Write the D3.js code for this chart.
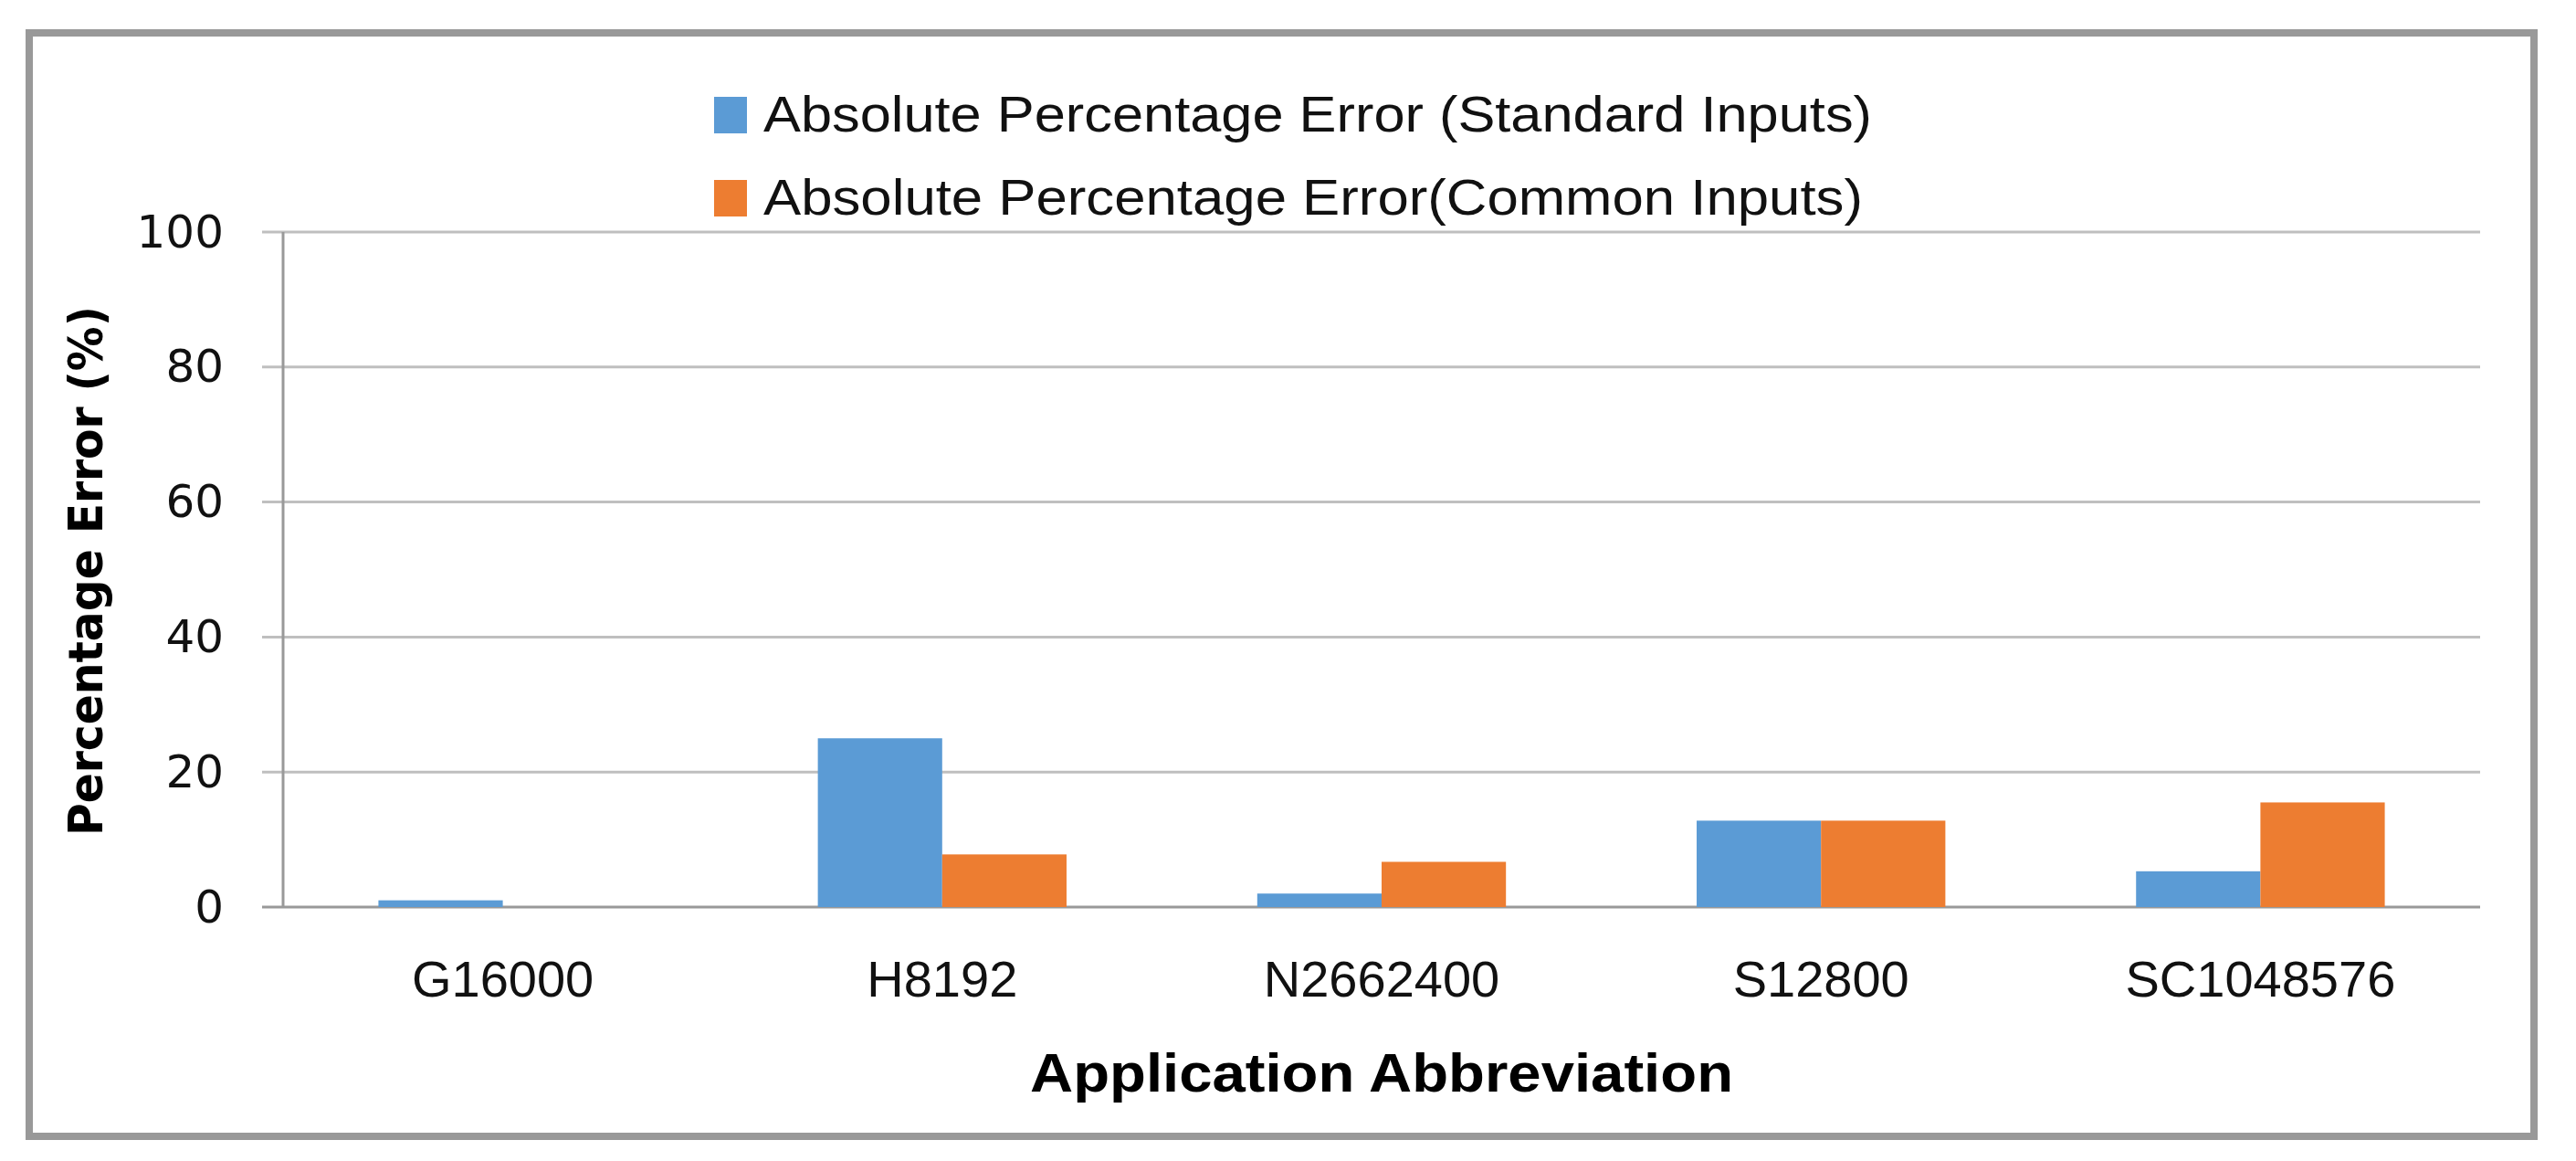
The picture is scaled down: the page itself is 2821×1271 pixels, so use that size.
<!DOCTYPE html>
<html><head><meta charset="utf-8">
<script src="https://cdn.jsdelivr.net/npm/d3@7"></script>
<style>body{margin:0;background:#fff}</style></head>
<body><svg id="c" width="2821" height="1271"></svg>
<script>
const categories = ["G16000","H8192","N2662400","S12800","SC1048576"];
const seriesNames = ["Absolute Percentage Error (Standard Inputs)","Absolute Percentage Error(Common Inputs)"];
const standardInputs = [1.0, 25.0, 2.0, 12.8, 5.3];
const commonInputs = [0.0, 7.8, 6.7, 12.8, 15.5];
const yTicks = [0,20,40,60,80,100];
const colors = ["#5b9bd5","#ed7d31"];

const svg = d3.select("#c");
const narrow = "'Liberation Sans Narrow','Arial Narrow',sans-serif";
svg.append("rect").attr("x",32).attr("y",36).attr("width",2743).attr("height",1208)
  .attr("fill","#fff").attr("stroke","#999").attr("stroke-width",8);

const L=310,R=2716,T=254,B=993;
const x = d3.scaleBand().domain(categories).range([L,R]).paddingInner(0.434).paddingOuter(0.217);
const xs = d3.scaleBand().domain([0,1]).range([0,x.bandwidth()]);
const y = d3.scaleLinear().domain([0,100]).range([B,T]);

const g = svg.append("g");
g.selectAll("line.grid").data(yTicks).join("line")
  .attr("x1",L-23).attr("x2",R).attr("y1",d=>y(d)).attr("y2",d=>y(d))
  .attr("stroke",d=>d===0?"#999":"#bfbfbf").attr("stroke-width",3);
g.append("line").attr("x1",L).attr("x2",L).attr("y1",T).attr("y2",B).attr("stroke","#999").attr("stroke-width",3);

const yAxis = d3.axisLeft(y).tickValues(yTicks).tickSize(0).tickPadding(65);
const ya = svg.append("g").attr("transform",`translate(${L},0)`).call(yAxis);
ya.select(".domain").remove();
ya.selectAll("text").attr("font-family","'DejaVu Sans',sans-serif").attr("font-size",50).attr("fill","#111");

const series=[standardInputs,commonInputs];
series.forEach((vals,si)=>{
  svg.append("g").selectAll("rect").data(vals).join("rect")
    .attr("x",(d,i)=>x(categories[i])+xs(si)).attr("width",xs.bandwidth())
    .attr("y",d=>y(d)).attr("height",d=>B-y(d)).attr("fill",colors[si]);
});

const xAxis = d3.axisBottom(x).tickSize(0).tickPadding(58);
const xa = svg.append("g").attr("transform",`translate(0,${B})`).call(xAxis);
xa.select(".domain").remove();
xa.selectAll("text").attr("font-family",narrow).attr("font-size",56).attr("fill","#111");

svg.append("text").attr("x",(L+R)/2).attr("y",1195).attr("text-anchor","middle")
  .attr("font-family",narrow).attr("font-weight","bold").attr("font-size",60)
  .attr("textLength",770).attr("lengthAdjust","spacingAndGlyphs").text("Application Abbreviation");
svg.append("text").attr("transform","translate(112,625) rotate(-90)").attr("text-anchor","middle")
  .attr("font-family","'DejaVu Sans',sans-serif").attr("font-weight","bold").attr("font-size",52)
  .attr("textLength",580).attr("lengthAdjust","spacingAndGlyphs").text("Percentage Error (%)");

const lg = svg.append("g");
const lw=[1214,1204];
seriesNames.forEach((n,i)=>{
  const yy=126+i*91;
  lg.append("rect").attr("x",782).attr("y",yy-20).attr("width",36).attr("height",40).attr("fill",colors[i]);
  lg.append("text").attr("x",836).attr("y",yy+18).attr("font-family",narrow).attr("font-size",56)
    .attr("fill","#111").attr("textLength",lw[i]).attr("lengthAdjust","spacingAndGlyphs").text(n);
});
</script></body></html>
